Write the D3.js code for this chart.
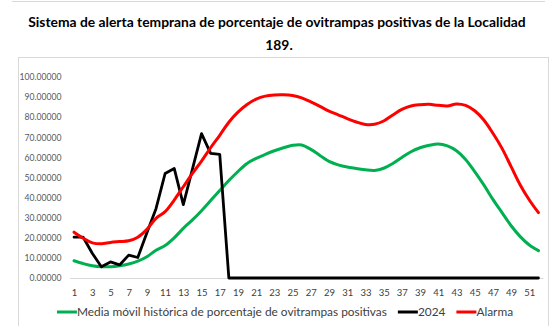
<!DOCTYPE html>
<html>
<head>
<meta charset="utf-8">
<script src="https://cdn.jsdelivr.net/npm/d3@7"></script>
<style>
  body { margin: 0; background: #ffffff; }
  svg { display: block; }
  text { font-family: Lato, "Open Sans", "Liberation Sans", sans-serif; }
</style>
</head>
<body>
<svg id="chart" width="551" height="326"></svg>
<script>
// Semanas epidemiológicas
const weeks = [1, 2, 3, 4, 5, 6, 7, 8, 9, 10, 11, 12, 13, 14, 15, 16, 17, 18, 19, 20,
  21, 22, 23, 24, 25, 26, 27, 28, 29, 30, 31, 32, 33, 34, 35, 36, 37, 38, 39, 40,
  41, 42, 43, 44, 45, 46, 47, 48, 49, 50, 51, 52];

// Media móvil histórica (%)
const mediaMovil = [8.6, 7.2, 6.1, 5.6, 5.6, 6.1, 7.0, 8.4, 10.6, 13.8,
  16.2, 20.0, 24.7, 28.9, 33.5, 38.5, 43.5, 48.5, 53.0, 57.0,
  59.5, 61.5, 63.3, 64.8, 66.0, 66.2, 64.0, 61.0, 58.0, 56.3,
  55.2, 54.5, 53.8, 53.5, 54.6, 57.0, 60.0, 62.8, 64.8, 66.0,
  66.7, 65.7, 63.3, 59.0, 52.9, 46.3, 39.1, 32.5, 26.0, 20.6,
  16.4, 13.6];

// Porcentaje de ovitrampas positivas 2024
const serie2024 = [20.3, 20.3, 12.3, 5.6, 8.0, 6.5, 11.4, 10.2, 22.5, 34.5,
  52.0, 54.5, 36.5, 54.2, 71.8, 62.0, 61.5, 0, 0, 0,
  0, 0, 0, 0, 0, 0, 0, 0, 0, 0,
  0, 0, 0, 0, 0, 0, 0, 0, 0, 0,
  0, 0, 0, 0, 0, 0, 0, 0, 0, 0,
  0, 0];

// Umbral de alarma (%)
const alarma = [22.8, 19.8, 17.5, 17.0, 17.7, 18.1, 18.5, 20.3, 24.2, 29.7,
  33.0, 38.8, 45.4, 52.0, 58.2, 64.8, 71.0, 77.5, 82.5, 86.3,
  89.0, 90.5, 91.1, 91.2, 90.8, 89.6, 87.6, 85.4, 83.0, 81.2,
  79.3, 77.6, 76.4, 76.5, 78.1, 81.1, 83.9, 85.6, 86.2, 86.4,
  85.9, 85.6, 86.6, 85.9, 83.2, 78.6, 72.0, 64.5, 55.4, 46.3,
  38.8, 32.5];

const yTicks = [0, 10, 20, 30, 40, 50, 60, 70, 80, 90, 100];
const xTicks = [1, 3, 5, 7, 9, 11, 13, 15, 17, 19, 21, 23, 25, 27, 29, 31, 33, 35,
  37, 39, 41, 43, 45, 47, 49, 51];

const titleLines = [
  "Sistema de alerta temprana de porcentaje de ovitrampas positivas de la Localidad",
  "189."
];
const seriesNames = [
  "Media móvil histórica de porcentaje de ovitrampas positivas",
  "2024",
  "Alarma"
];
const seriesColors = ["#00b050", "#000000", "#ff0000"];

const svg = d3.select("#chart");

// Marcos del área del gráfico
svg.append("line")
  .attr("x1", 12).attr("x2", 545).attr("y1", 1.5).attr("y2", 1.5)
  .attr("stroke", "#d9d9d9").attr("stroke-width", 1);
svg.append("rect")
  .attr("x", 18.5).attr("y", 57.5).attr("width", 530).attr("height", 290)
  .attr("fill", "none").attr("stroke", "#d9d9d9").attr("stroke-width", 1);

// Título
const title = svg.append("g");
titleLines.forEach((t, i) => {
  title.append("text")
    .attr("x", i === 0 ? 277 : 279)
    .attr("y", i === 0 ? 27 : 50)
    .attr("text-anchor", "middle")
    .attr("font-weight", "bold")
    .attr("font-size", 14)
    .attr("fill", "#000000")
    .text(t);
});
// ajustar el tamaño del título al ancho disponible
{
  const first = title.select("text").node();
  const w = first.getComputedTextLength();
  const fs = 14 * 498 / w;
  title.selectAll("text").attr("font-size", fs);
}

// Escalas
const x = d3.scalePoint().domain(weeks).range([69.5, 543]).padding(0.5);
const y = d3.scaleLinear().domain([0, 100]).range([278, 77]);

// Eje Y
const yAxis = svg.append("g")
  .attr("transform", "translate(69.5,0)")
  .call(d3.axisLeft(y).tickValues(yTicks).tickFormat(d3.format(".5f")).tickSize(0).tickPadding(8));
yAxis.select(".domain").remove();
yAxis.selectAll("text")
  .attr("font-size", 8.6)
  .attr("fill", "#595959")
  .style("font-family", "Lato, 'Open Sans', sans-serif");

// Eje X
const xAxis = svg.append("g")
  .attr("transform", "translate(0,278)")
  .call(d3.axisBottom(x).tickValues(xTicks).tickSize(0).tickSizeOuter(0).tickPadding(11));
xAxis.select(".domain").attr("stroke", "#d9d9d9").attr("stroke-width", 1);
xAxis.selectAll("text")
  .attr("font-size", 9.5)
  .attr("fill", "#404040")
  .style("font-family", "Lato, 'Open Sans', sans-serif");

// Líneas
const smooth = d3.line()
  .x((d, i) => x(weeks[i]))
  .y(d => y(d))
  .curve(d3.curveCatmullRom.alpha(0.5));
const straight = d3.line()
  .x((d, i) => x(weeks[i]))
  .y(d => y(d));

svg.append("path")
  .datum(mediaMovil)
  .attr("d", smooth)
  .attr("fill", "none")
  .attr("stroke", seriesColors[0])
  .attr("stroke-width", 3)
  .attr("stroke-linejoin", "round")
  .attr("stroke-linecap", "round");

svg.append("path")
  .datum(serie2024)
  .attr("d", straight)
  .attr("fill", "none")
  .attr("stroke", seriesColors[1])
  .attr("stroke-width", 2.8)
  .attr("stroke-linejoin", "round")
  .attr("stroke-linecap", "round");

svg.append("path")
  .datum(alarma)
  .attr("d", smooth)
  .attr("fill", "none")
  .attr("stroke", seriesColors[2])
  .attr("stroke-width", 3)
  .attr("stroke-linejoin", "round")
  .attr("stroke-linecap", "round");

// Leyenda
const legend = svg.append("g");
const legendFont = 11;
const items = seriesNames.map((name, i) => {
  const g = legend.append("g");
  g.append("line")
    .attr("x1", 0).attr("x2", 20).attr("y1", 0).attr("y2", 0)
    .attr("stroke", seriesColors[i]).attr("stroke-width", 3);
  const t = g.append("text")
    .attr("x", 20).attr("y", 0).attr("dy", "0.35em")
    .attr("font-size", legendFont)
    .attr("fill", "#404040")
    .text(name);
  return { g, t };
});
// escalar la fuente para que el primer rótulo ocupe su ancho
{
  const w0 = items[0].t.node().getComputedTextLength();
  const fs = legendFont * 310 / w0;
  items.forEach(it => it.t.attr("font-size", fs));
}
let cx = 0;
items.forEach((it, i) => {
  it.g.attr("transform", `translate(${cx},0)`);
  cx += 20 + it.t.node().getComputedTextLength() + 11;
});
const legendWidth = cx - 11;
legend.attr("transform", `translate(${285 - legendWidth / 2},312)`);
</script>
</body>
</html>
